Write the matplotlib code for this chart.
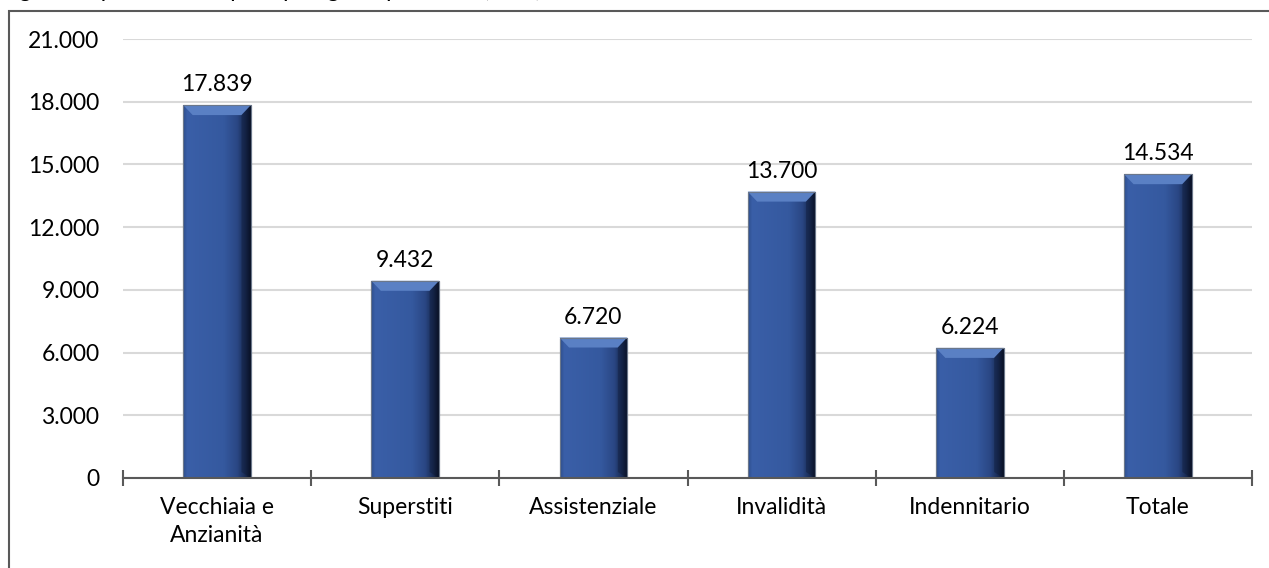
import numpy as np
import matplotlib
matplotlib.use("Agg")
import matplotlib.pyplot as plt
from matplotlib.patches import Polygon, Rectangle
from matplotlib.colors import LinearSegmentedColormap
from matplotlib.ticker import FuncFormatter, FixedLocator

# data
categorie = ["Vecchiaia e\nAnzianità", "Superstiti", "Assistenziale",
             "Invalidità", "Indennitario", "Totale"]
importi = [17839, 9432, 6720, 13700, 6224, 14534]
y_ticks = [0, 3000, 6000, 9000, 12000, 15000, 18000, 21000]
titolo = "Figura: Importo medio per tipologia di pensione (euro)"

plt.rcParams['font.family'] = ['Lato', 'DejaVu Sans']

W, H = 1269, 568
fig = plt.figure(figsize=(W / 100, H / 100), dpi=100)
ax = fig.add_axes([123 / W, 1 - 478 / H, (1252 - 123) / W, (478 - 39) / H])

def fmt_it(v, pos=None):
    return f"{v:,.0f}".replace(",", ".")

x = np.arange(len(categorie))
bars = ax.bar(x, importi, width=0.36, color="#34599f",
              edgecolor="#6b778a", linewidth=0.8, zorder=3)

ax.set_xlim(-0.5, len(categorie) - 0.5)
ax.set_ylim(0, 21000)
ax.yaxis.set_major_locator(FixedLocator(y_ticks))
ax.yaxis.set_major_formatter(FuncFormatter(fmt_it))
ax.grid(axis="y", color="#d9d9d9", linewidth=1.5, zorder=0)
ax.set_axisbelow(True)

for s in ["top", "right", "left"]:
    ax.spines[s].set_visible(False)
ax.spines["bottom"].set_color("#595959")
ax.spines["bottom"].set_linewidth(1.5)
ax.spines["bottom"].set_zorder(4)

ax.set_xticks(x)
ax.set_xticklabels(categorie, fontsize=16.5, linespacing=1.4)
ax.set_xticks(np.arange(-0.5, len(categorie)), minor=True)
ax.tick_params(axis="x", which="major", length=0, pad=14)
ax.tick_params(axis="x", which="minor", direction="inout", length=11,
               width=1.5, color="#595959")
ax.tick_params(axis="y", length=0, pad=17, labelsize=16.5)

# bevel look: horizontal shading + top chamfer
cmap = LinearSegmentedColormap.from_list("bev", [
    (0.0, "#2d4d8c"), (0.06, "#3a5fa8"), (0.6, "#35599f"),
    (0.8, "#2a4784"), (0.92, "#182a52"), (1.0, "#080f22")])
grad = np.linspace(0, 1, 200).reshape(1, -1)
inv = ax.transData.inverted()
dy = inv.transform((0, 10))[1] - inv.transform((0, 0))[1]
for b, v in zip(bars, importi):
    x0, w = b.get_x(), b.get_width()
    x1 = x0 + w
    top = b.get_height()
    im = ax.imshow(grad, cmap=cmap, aspect="auto", extent=(x0, x1, 0, top),
                   zorder=3.1, interpolation="bilinear")
    im.set_clip_path(b)
    d = w * 0.14
    ax.add_patch(Polygon([(x0, top), (x1, top), (x1 - d, top - dy),
                          (x0 + d, top - dy)], closed=True,
                         facecolor="#5a80c4", edgecolor="none", zorder=3.2))
    ax.add_patch(Polygon([(x1, top), (x1 - d, top - dy), (x1 - d, dy * 0.6),
                          (x1, 0)], closed=True,
                         facecolor="#0c1730", alpha=0.35, edgecolor="none",
                         zorder=3.2))
    ax.add_patch(Rectangle((x0, 0), w, top, facecolor="none",
                           edgecolor="#6b778a", linewidth=0.8, zorder=3.3))
    ax.annotate(fmt_it(v), (b.get_x() + w / 2, top), xytext=(0, 7),
                textcoords="offset points", ha="center", va="bottom",
                fontsize=16.5)

# outer frame and clipped caption above it
fig.patches.append(Rectangle((9 / W, -0.1), 1.2, 1.1 - 11 / H,
                             transform=fig.transFigure, fill=False,
                             edgecolor="#595959", linewidth=1.5))
fig.text(1 / W, 1 + 3 / H, titolo, fontsize=16.5, va="baseline", ha="left")

fig.savefig("out.png", dpi=100)
